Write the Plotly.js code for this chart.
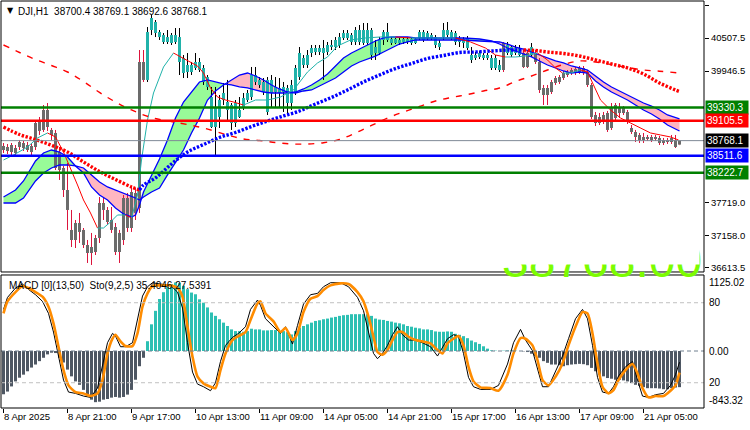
<!DOCTYPE html>
<html><head><meta charset="utf-8">
<script src="https://cdn.plot.ly/plotly-3.0.1.min.js"></script>
<style>html,body{margin:0;padding:0;background:#fff;}#chart{width:750px;height:430px;}</style>
</head><body><div id="chart"></div>
<script>
// ---------- DATA ----------
const opens = [38677,38592,38694,38558,38660,38728,38694,38575,38660,39084,
38949,39288,38949,38898,38575,38304,37931,37253,37083,37371,
37253,36998,36862,36879,37117,37710,37592,37422,37303,36879,
37083,37795,37286,37880,37625,40102,39797,40644,40780,40610,
40559,40441,40559,40441,40525,40169,39932,40051,40000,40102,
40000,39847,39508,38999,39169,39457,39423,39372,39067,39288,
39321,39457,39508,39881,39797,39763,39254,39797,39593,39661,
39593,39661,39406,39593,39847,40169,40051,40254,40339,40271,
40339,40271,40356,40356,40390,40508,40593,40559,40441,40644,
40644,40424,40644,40254,40254,40475,40610,40491,40424,40475,
40441,40491,40424,40491,40508,40610,40508,40559,40525,40356,
40525,40644,40610,40593,40441,40491,40508,40220,40169,40186,
40220,40169,40169,40000,40051,39966,40390,40220,40339,40220,
40254,40017,40220,40254,40102,39661,39542,39593,39746,39763,
39830,39881,39915,39915,39932,40000,39932,39712,39203,39067,
39203,39237,38982,39372,39237,39321,39254,38982,38915,38864,
38779,38830,38779,38830,38813,38728,38779,38745,38779,38700.4];
const highs = [38728,38711,38728,38694,38779,38762,38745,38728,39118,39169,
39372,39406,38982,38949,38660,38338,38389,37592,37422,37541,
37286,37083,37202,37168,37812,37812,37642,37642,37371,37253,
37846,37880,37982,37965,40305,40305,40695,40899,40814,40644,
40593,40644,40593,40678,40678,40220,40254,40102,40254,40169,
40051,39881,39678,39678,39542,39746,39797,39406,39457,39508,
39576,39627,40017,40017,39847,39830,39847,39881,39847,39830,
39763,39712,39797,40051,40356,40220,40305,40390,40390,40390,
40475,40441,40475,40525,40593,40644,40644,40593,40695,40729,
40763,40763,40678,40475,40525,40644,40763,40525,40508,40508,
40525,40525,40525,40508,40644,40644,40627,40593,40559,40475,
40763,40780,40644,40627,40542,40525,40542,40356,40271,40288,
40254,40254,40220,40220,40136,40441,40441,40390,40390,40390,
40305,40305,40424,40305,40169,39712,39712,39797,39864,39881,
39949,39966,40000,40017,40034,40034,39966,39746,39254,39237,
39254,39271,39406,39406,39406,39355,39288,39033,38949,38898,
38898,38864,38864,38864,38847,38813,38813,38864,38864,38769.1];
const lows = [38558,38541,38507,38507,38609,38592,38575,38524,38609,38864,
38915,38932,38779,38270,38101,37812,37253,36964,36947,37032,
36947,36693,36659,36828,37032,37422,37337,37202,36828,36693,
36998,37219,37219,37422,37541,39763,39763,40559,40525,40475,
40407,40407,40390,40407,39881,39830,39830,39881,39966,39932,
39712,39627,38982,38490,38982,39372,39084,38949,38999,39152,
39288,39423,39457,39712,39661,39542,39203,39338,39338,39321,
39254,39203,39288,39542,39797,40000,40000,40186,40220,40220,
39797,40220,40305,40305,40339,40475,40475,40390,40390,40390,
40390,40390,40136,40136,40220,40390,40441,40390,40407,40390,
40407,40407,40390,40407,40475,40441,40475,40475,40339,40305,
40475,40525,40475,40390,40356,40339,40305,40085,40136,40152,
40136,40136,39966,39966,39932,39932,40220,40186,40220,40186,
40000,40000,40186,40068,39576,39372,39372,39559,39712,39729,
39797,39847,39881,39881,39898,39881,39678,39135,39016,39033,
39050,38915,38949,39118,39152,39203,39050,38881,38745,38728,
38728,38762,38745,38762,38694,38694,38711,38711,38643,38692.6];
const closes = [38609,38660,38575,38643,38745,38643,38609,38677,39067,38932,
39288,38999,38864,38304,38270,37931,37592,37083,37371,37219,
36998,36862,36964,37117,37710,37592,37388,37253,36879,37202,
37795,37286,37897,37541,40102,39797,40610,40848,40593,40525,
40441,40525,40424,40559,40102,39915,40051,39932,40102,39966,
39763,39678,38999,39338,39457,39576,39288,39067,39406,39169,
39491,39576,39881,39763,39712,39593,39797,39576,39678,39576,
39678,39406,39712,40000,40254,40051,40220,40339,40271,40339,
40254,40390,40390,40475,40525,40593,40508,40441,40644,40441,
40424,40644,40220,40356,40475,40610,40475,40424,40491,40424,
40491,40441,40491,40424,40610,40475,40593,40508,40390,40424,
40644,40559,40508,40441,40508,40424,40339,40136,40220,40254,
40169,40220,40000,40169,39966,40424,40254,40356,40254,40339,
40017,40254,40356,40102,39627,39542,39661,39763,39830,39847,
39915,39932,39966,39983,40000,39915,39712,39169,39067,39169,
39084,38949,39338,39152,39338,39237,39084,38915,38830,38779,
38830,38796,38830,38796,38728,38779,38745,38813,38660,38768.1];
// bars drawn in the teal (trend-up) colour, the rest are grey
const tealRanges = [[36,124],[126,129],[132,132]];

// dotted trend MA (blue when rising, red when falling)
const dotX  = [0,4,8,12,16,20,24,28,32,34,35,38,42,46,50,54,58,62,66,70,74,78,82,86,90,94,98,102,106,110,114,118,122,126,130,133,136,140,144,148,152,156,160,164,168,169];
const dotMA = [38999,38872,38787,38689,38575,38406,38245,38109,37982,37931,38016,38135,38372,38575,38702,38821,38906,39008,39101,39186,39271,39389,39500,39627,39763,39881,39991,40076,40161,40212,40263,40271,40288,40305,40305,40297,40271,40246,40203,40136,40068,40000,39898,39746,39627,39601];

// long red dashed MA
const slowX  = [0,4,8,12,16,20,24,28,32,37,44,50,56,60,64,68,72,76,80,84,88,92,96,100,104,108,112,116,120,124,128,132,136,140,144,148,152,156,160,164,169];
const slowMA = [40390,40263,40144,40042,39932,39771,39585,39423,39288,39160,39067,38982,38864,38796,38770,38736,38711,38711,38733,38787,38898,39025,39152,39254,39347,39440,39500,39550,39610,39661,39771,39864,39966,40059,40119,40102,40059,40008,39966,39946,39915];

// cloud: line A (fast) and line B (slow); green where A above B, pink where below
const cloudX = [0,3,5,8,10,12,14,16,18,20,22,24,26,28,30,32,33,34,35,37,39,41,43,45,47,49,51,53,55,57,59,61,63,65,67,69,71,73,75,77,79,81,83,85,87,89,91,93,95,97,99,101,103,105,107,111,115,119,122,124,126,128,130,132,134,136,138,140,142,144,146,148,150,152,154,156,158,160,162,164,166,168,169];
const cloudA = [37812,37931,38084,38423,38558,38609,38575,38490,38338,38219,37982,37846,37761,37625,37524,37473,37507,37677,37897,38168,38457,38779,39152,39423,39593,39763,39797,39763,39729,39712,39678,39661,39627,39593,39576,39576,39576,39593,39644,39712,39797,39898,40034,40170,40254,40322,40390,40458,40509,40526,40526,40526,40509,40509,40509,40509,40509,40492,40458,40407,40339,40288,40237,40187,40119,40051,40000,39949,39915,39932,39915,39780,39678,39593,39525,39457,39372,39288,39220,39135,39033,38966,38932];
const cloudB = [37710,37710,37795,38084,38219,38304,38355,38355,38338,38304,38186,38067,37982,37931,37880,37829,37795,37761,37812,37897,37965,38186,38389,38609,38898,39152,39457,39610,39712,39797,39881,39915,39864,39797,39712,39644,39593,39576,39610,39627,39695,39763,39830,39932,40034,40102,40152,40203,40271,40339,40407,40441,40475,40475,40475,40475,40475,40458,40441,40441,40407,40356,40322,40271,40220,40170,40119,40085,40034,40000,39966,39864,39763,39678,39610,39542,39474,39406,39355,39288,39203,39152,39135];

// thin fast MA (teal rising, red falling)
const fastX  = [0,2.5,6,8.5,11,13,15,16.75,18.5,20,21.75,23.5,25,26.75,28.5,30.5,32,33.5,34.5,36,37.5,40,42.5,44.25,46.75,48.5,50,51.75,53.5,55.5,57.5,60,63,66,69.25,72.5,76,78.5,81,83.5,86.75,90.5,94.25,98,101.75,105.5,109.25,113,116.75,120.5,123,125.5,128,130.5,133.5,136,138,139.75,141.75,144.25,146,147.5,149.25,151.75,154.25,156.75,159.25,161.75,164.25,166.75,168.75];
const fastMA = [38440,38524,38660,38813,38898,38830,38575,38304,38016,37761,37541,37286,37286,37388,37507,37507,37456,37846,38440,39118,39576,40017,40254,40187,40102,40034,39915,39661,39508,39457,39423,39372,39457,39457,39508,39627,39932,40085,40187,40373,40475,40509,40526,40526,40509,40509,40509,40509,40441,40339,40220,40187,40187,40203,40254,40136,40000,39915,39915,39966,39932,39712,39457,39288,39152,39067,38982,38898,38864,38830,38779];

// horizontal levels
const levelValues = [39330.3, 39105.5, 38511.6, 38222.7];
const levelColors = ['#008000', '#FF0000', '#0000FF', '#008000'];
const bidPrice = 38768.1;
const watermarkText = '38768.00';

// MACD histogram, one value per bar
const macdHist = [-640,-600,-524,-450,-395,-350,-300,-245,-200,-150,
-100,-50,-25,-30,-100,-170,-275,-375,-450,-500,
-575,-650,-720,-757,-750,-720,-710,-690,-680,-690,
-680,-645,-575,-425,-225,-100,145,395,595,770,
870,945,990,1015,1005,965,915,865,840,765,
715,645,570,520,470,420,370,320,295,295,
285,295,330,320,320,305,305,310,310,295,
295,280,245,295,345,370,395,420,445,455,
470,480,495,505,520,530,535,545,545,545,
545,545,520,480,465,460,445,435,420,410,
395,370,360,345,335,320,320,310,290,285,
285,290,285,255,240,220,190,155,130,105,
70,35,10,5,0,5,8,8,5,0,
-5,-15,-40,-75,-100,-150,-175,-200,-200,-210,
-225,-210,-200,-195,-190,-195,-210,-250,-300,-350,
-375,-400,-410,-425,-425,-435,-450,-475,-500,-515,
-535,-550,-550,-550,-555,-565,-565,-550,-540,-535];

// stochastic (main black, signal orange)
const stochX = [0,1,3,4.75,6.25,8,9.75,11.25,12.5,13.75,15,16.25,18,20,21.75,23.5,24.75,26,27.25,28,29.25,30.5,32.25,33.5,34.75,36,37.25,39.25,41.75,43.5,44.75,46,47.25,48.5,50,51.75,53,54.25,55.5,57.25,58.75,60.5,61.75,63.5,64.25,65.5,67.5,69.25,70.5,72.25,73.5,75,76.75,78.5,80,81.75,84.25,86.25,88.5,90,91.25,92.5,93.5,94.75,96,97.25,98.5,99.75,101.25,103,104.75,106.75,108.5,109.75,111,112.5,113.75,115,116.25,117.5,119.25,121.75,123.75,126,127.5,129.25,130.5,132.25,133.5,134.75,136.25,138,139.75,141.25,143,144.75,146,147.25,148.5,149.75,151.25,152.5,153.75,155.5,157.25,158.5,159.75,161.25,163,165,166.75,168,169];
const stochSignal = [72,81,88,92.5,91,88,84.5,77,64.5,47,29.5,18,13,12,10,12,22,42,53,56,51,47.5,47.5,57,77,87,92.5,93,93,91,84.5,62,39.5,24.5,19.5,17,16,29.5,42,52,55,58,67,79.5,81,72,66,58,61,52,57,73,83,85,89.5,93,94.5,94,88,81,69.5,54.5,43,41,44.5,52,58,58,54.5,52,51,49.5,44.5,42,49.5,53,55,48,32,21,16.5,16,14,26,42,53.5,53,48,37,22,18,24.5,34.5,48,62,73,72,57,34.5,17,12,14.5,22,29.5,34,27,16,9,10,10,14,18,27.5391];
const stochMain = [75,84,91,94,90,86,81,72,58,40,22,13,12,10,9,16,32,50,57,55,47,47,50,68,85,92,95,94,93,88,76,50,28,19,17,14,20,36,48,54,57,62,75,82,78,68,62,57,62,49,63,79,86,87,92,95,95,92,84,74,58,42,38,42,48,56,62,56,52,52,50,47,40,46,53,56,55,42,24,17,15,15,18,34,50,60,52,44,30,17,17,28,40,53,68,75,68,48,24,13,12,17,25,32,36,22,10,9,11,12,18,26,35.4046];

// axis ticks
const xTickBars = [0,16,32,48,64,80,96,112,128,144,160];
const xTickLabels = ['8 Apr 2025','8 Apr 21:00','9 Apr 17:00','10 Apr 13:00','11 Apr 09:00','14 Apr 05:00','14 Apr 21:00','15 Apr 17:00','16 Apr 13:00','17 Apr 09:00','21 Apr 05:00'];
const priceTicks = [41068.5,40507.5,39946.5,37719.0,37158.0,36613.5];

// ---------- BUILD ----------
const FONT = 'Liberation Sans, Arial, sans-serif';
const N = opens.length;
const isTeal = i => tealRanges.some(r => i >= r[0] && i <= r[1]);
const traces = [];

function bodies(teal){
  const x=[],b=[],h=[];
  for(let i=0;i<N;i++){ if(isTeal(i)!==teal) continue;
    const lo=Math.min(opens[i],closes[i]), hi=Math.max(opens[i],closes[i]);
    x.push(i); b.push(lo); h.push(Math.max(hi-lo,12)); }
  return {type:'bar',x:x,base:b,y:h,width:0.75,xaxis:'x',yaxis:'y',
    marker:{color:teal?'#20B2AA':'#6B6B6B',line:{width:0}},hoverinfo:'skip'};
}
function wicks(teal){
  const x=[],y=[];
  for(let i=0;i<N;i++){ if(isTeal(i)!==teal) continue;
    const top=Math.max(opens[i],closes[i]), bot=Math.min(opens[i],closes[i]);
    if(highs[i]>top){x.push(i,i,null);y.push(top,highs[i],null);}
    if(lows[i]<bot){x.push(i,i,null);y.push(lows[i],bot,null);} }
  return {type:'scatter',mode:'lines',x:x,y:y,xaxis:'x',yaxis:'y',
    line:{color:teal?'#000000':'#DC143C',width:1},hoverinfo:'skip'};
}
function byDirection(xs, ys, up, down, extra, yaxis){
  const segs=[]; let cur=null;
  for(let k=0;k<xs.length-1;k++){
    const col = ys[k+1]>=ys[k]?up:down;
    if(!cur||cur.c!==col){cur={c:col,x:[xs[k]],y:[ys[k]]};segs.push(cur);}
    cur.x.push(xs[k+1]); cur.y.push(ys[k+1]);
  }
  return segs.map(s=>({type:'scatter',mode:'lines',x:s.x,y:s.y,xaxis:'x',yaxis:yaxis||'y',
    line:Object.assign({color:s.c},extra),hoverinfo:'skip'}));
}

// cloud as background shapes
const shapes=[];
(function(){
  const d = cloudA.map((a,k)=>a-cloudB[k]);
  let sign = d[0]>=0, pa=[[cloudX[0],cloudA[0]]], pb=[[cloudX[0],cloudB[0]]];
  const flush=()=>{
    const pts = pa.concat(pb.slice().reverse());
    shapes.push({type:'path',xref:'x',yref:'y',layer:'below',
      path:'M '+pts.map(p=>p[0]+','+p[1]).join(' L ')+' Z',
      fillcolor:sign?'#98FB98':'#FFB6C1',line:{width:0}});
  };
  for(let k=1;k<cloudX.length;k++){
    const s = d[k]>=0;
    if(s!==sign){
      const t=d[k-1]/(d[k-1]-d[k]);
      const xc=cloudX[k-1]+t*(cloudX[k]-cloudX[k-1]);
      const yc=cloudA[k-1]+t*(cloudA[k]-cloudA[k-1]);
      pa.push([xc,yc]); pb.push([xc,yc]); flush();
      pa=[[xc,yc]]; pb=[[xc,yc]]; sign=s;
    }
    pa.push([cloudX[k],cloudA[k]]); pb.push([cloudX[k],cloudB[k]]);
  }
  flush();
})();

traces.push(bodies(true), bodies(false), wicks(true), wicks(false));
traces.push({type:'scatter',mode:'lines',x:cloudX,y:cloudA,xaxis:'x',yaxis:'y',line:{color:'#0000FF',width:1.3},hoverinfo:'skip'});
traces.push({type:'scatter',mode:'lines',x:cloudX,y:cloudB,xaxis:'x',yaxis:'y',line:{color:'#0000FF',width:1.3},hoverinfo:'skip'});
traces.push(...byDirection(fastX, fastMA, '#20B2AA', '#FF0000', {width:1}));
traces.push({type:'scatter',mode:'lines',x:slowX,y:slowMA,xaxis:'x',yaxis:'y',line:{color:'#FF0000',width:1.4,dash:'6px,7px',shape:'spline'},hoverinfo:'skip'});
traces.push(...byDirection(dotX, dotMA, '#0000FF', '#FF0000', {width:3.4,dash:'2.4px,1.6px',shape:'spline'}));

// lower panel
traces.push({type:'bar',x:macdHist.map((_,i)=>i),y:macdHist,width:0.75,xaxis:'x',yaxis:'y2',
  marker:{color:macdHist.map(v=>v>=0?'#2CC0B3':'#4E5763'),line:{width:0}},hoverinfo:'skip'});
traces.push({type:'scatter',mode:'lines',x:stochX,y:stochMain,xaxis:'x',yaxis:'y3',line:{color:'#000000',width:1},hoverinfo:'skip'});
traces.push({type:'scatter',mode:'lines',x:stochX,y:stochSignal,xaxis:'x',yaxis:'y3',line:{color:'#FF8C00',width:2.6,shape:'spline',smoothing:0.6},hoverinfo:'skip'});

// levels and frames
levelValues.forEach((v,k)=>shapes.push({type:'line',xref:'paper',x0:0,x1:1,yref:'y',y0:v,y1:v,layer:'above',line:{color:levelColors[k],width:2.4}}));
shapes.push({type:'line',xref:'paper',x0:0,x1:1,yref:'y',y0:bidPrice,y1:bidPrice,layer:'above',line:{color:'#7F8A96',width:1}});
shapes.push({type:'line',xref:'paper',x0:0,x1:1,yref:'y3',y0:80,y1:80,line:{color:'#C0C0C0',width:1,dash:'4px,3px'}});
shapes.push({type:'line',xref:'paper',x0:0,x1:1,yref:'y3',y0:20,y1:20,line:{color:'#C0C0C0',width:1,dash:'4px,3px'}});
shapes.push({type:'line',xref:'paper',x0:0,x1:1,yref:'y2',y0:0,y1:0,line:{color:'#708090',width:1,dash:'4px,3px'}});
shapes.push({type:'rect',xref:'paper',yref:'paper',x0:0,x1:1,y0:0.3342,y1:1,line:{color:'#000',width:1},layer:'above'});
shapes.push({type:'rect',xref:'paper',yref:'paper',x0:0,x1:1,y0:0,y1:0.3268,line:{color:'#000',width:1},layer:'above'});

const ann=[];
// big lime price watermark: only its lower edge peeks out at the bottom of the price window
ann.push({xref:'paper',yref:'paper',x:0.855,y:0.4226,xanchor:'center',yanchor:'top',yshift:3.5,showarrow:false,borderpad:0,
  text:watermarkText,font:{family:'Liberation Sans, Arial',size:48,color:'#7CFC00'}});
ann.push({xref:'paper',yref:'paper',x:0.7,y:0.4226,xanchor:'left',yanchor:'top',showarrow:false,borderpad:0,
  text:' ',width:205,height:27,bgcolor:'#FFFFFF',font:{size:8}});
const tag=(v,bg,ref)=>ann.push({xref:'paper',x:1,xanchor:'left',xshift:1,yref:ref||'y',y:v,yanchor:'middle',
  text:v.toFixed(1),showarrow:false,bgcolor:bg,font:{family:FONT,size:10,color:'#fff'},borderpad:1,width:40,align:'left'});
levelValues.forEach((v,k)=>tag(v,levelColors[k]));
tag(bidPrice,'#000000');
const sideLab=(txt,ref,y,anchor)=>ann.push({xref:'paper',x:1,xanchor:'left',xshift:3,yref:ref,y:y,yanchor:anchor||'middle',
  text:txt,showarrow:false,font:{family:FONT,size:10,color:'#000'}});
sideLab('1125.02','y2',1125.02,'top');
sideLab('80','y3',80);
sideLab('0.00','y2',0);
sideLab('20','y3',20);
sideLab('-843.32','y2',-843.32,'bottom');
ann.push({xref:'paper',yref:'paper',x:0,y:1,xanchor:'left',yanchor:'top',xshift:4,yshift:-3,showarrow:false,
  text:'▼',font:{family:'DejaVu Sans',size:8,color:'#000'}});
ann.push({xref:'paper',yref:'paper',x:0,y:1,xanchor:'left',yanchor:'top',xshift:15,yshift:-3,showarrow:false,
  text:'DJI,H1  38700.4 38769.1 38692.6 38768.1',font:{family:FONT,size:10,color:'#000'}});
ann.push({xref:'paper',yref:'paper',x:0,y:0.3268,xanchor:'left',yanchor:'top',xshift:6,yshift:-3,showarrow:false,
  text:'MACD [0](13,50)  Sto(9,2,5) 35.4046 27.5391',font:{family:FONT,size:10,color:'#000'}});

const tickFont={family:FONT,size:9.5,color:'#000'};
const layout={
  width:750,height:430,margin:{l:1,r:46,t:1,b:22},paper_bgcolor:'#fff',plot_bgcolor:'#fff',
  barmode:'overlay',showlegend:false,hovermode:false,
  xaxis:{range:[-0.625,175.125],anchor:'y2',tickvals:xTickBars,ticktext:xTickLabels,ticks:'outside',ticklen:4,
    tickangle:0,tickcolor:'#000',ticklabelposition:'outside right',tickfont:tickFont,showgrid:false,zeroline:false,showline:false},
  yaxis:{domain:[0.3342,1],range:[36540.2,41136.3],side:'right',anchor:'x',tickvals:priceTicks,
    ticktext:priceTicks.map(v=>v.toFixed(1)),ticks:'outside',ticklen:4,tickcolor:'#000',tickfont:tickFont,
    showgrid:false,zeroline:false,showline:false},
  yaxis2:{domain:[0,0.3268],range:[-843.32,1125.02],side:'right',anchor:'x',showticklabels:false,ticks:'',
    showgrid:false,zeroline:false,showline:false},
  yaxis3:{overlaying:'y2',anchor:'x',range:[1.05,100.8],visible:false},
  shapes:shapes,annotations:ann
};
Plotly.newPlot('chart',traces,layout,{staticPlot:true,displayModeBar:false});
</script></body></html>
